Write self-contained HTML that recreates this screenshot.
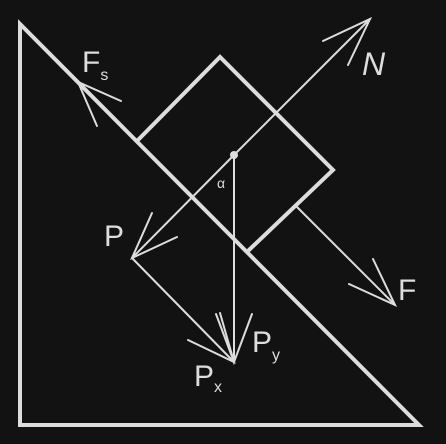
<!DOCTYPE html>
<html><head><meta charset="utf-8"><style>
html,body{margin:0;padding:0;background:#121212;}
svg{display:block}
text{font-family:"Liberation Sans",sans-serif;fill:#ddd}
</style></head><body>
<svg width="446" height="444" viewBox="0 0 446 444">
<rect width="446" height="444" fill="#121212"/>
<g stroke="#ddd" fill="none" stroke-linecap="round" stroke-linejoin="miter">
<polygon points="20,24 20,425 419,425" stroke-width="4"/>
<polyline points="138,140 220,57 333,170 249,250" stroke-width="4"/>
<g stroke-width="2">
<line x1="234" y1="155" x2="370" y2="19"/>
<polyline points="323,41 370,19 348,65"/>
<polyline points="121,101 78,82 97,126"/>
<line x1="234" y1="155" x2="132" y2="258"/>
<polyline points="152,213 132,258 177,237"/>
<line x1="234" y1="155" x2="234" y2="362"/>
<line x1="132" y1="258" x2="234" y2="362"/>
<polyline points="188,340 234,362 216,314"/>
<polyline points="220,313 234,362 252,314"/>
<line x1="297" y1="207" x2="395" y2="305"/>
<polyline points="349,284 395,305 373,259"/>
</g>
</g>
<circle cx="234" cy="155" r="4" fill="#ddd"/>
<text x="82" y="72" font-size="30">F<tspan font-size="16" dy="8">s</tspan></text>
<text x="362" y="75" font-size="32" font-style="italic">N</text>
<text x="104" y="246" font-size="30">P</text>
<text x="398" y="300" font-size="30">F</text>
<text x="252" y="352" font-size="30">P<tspan font-size="16" dy="8">y</tspan></text>
<text x="194" y="386" font-size="30">P<tspan font-size="16" dy="6">x</tspan></text>
<text x="217" y="188" font-size="14">α</text>
</svg>
</body></html>
